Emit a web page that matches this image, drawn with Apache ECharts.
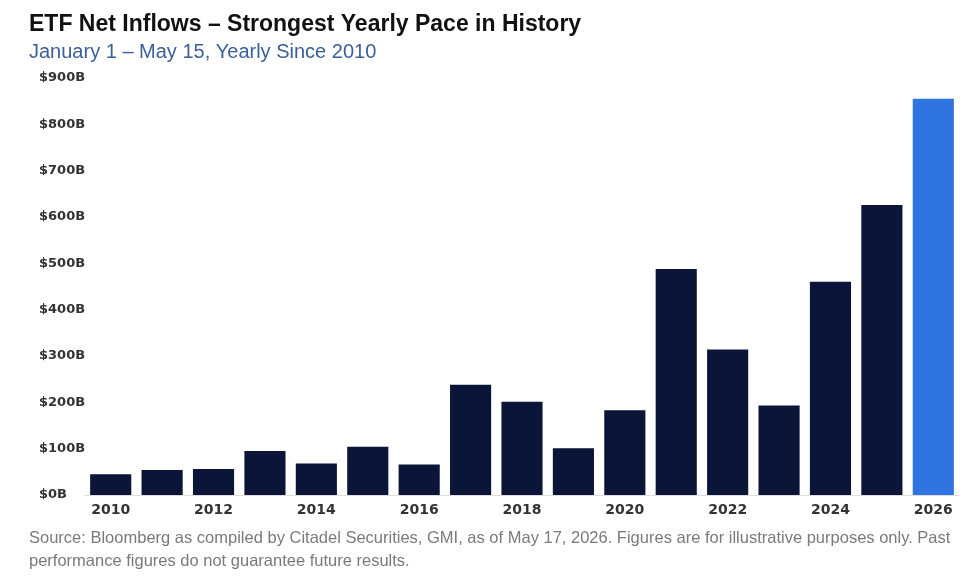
<!DOCTYPE html>
<html>
<head>
<meta charset="utf-8">
<script src="https://cdn.jsdelivr.net/npm/echarts@6/dist/echarts.min.js"></script>
<style>
  html, body { margin: 0; padding: 0; background: #fff; }
  #chart { width: 974px; height: 580px; }
</style>
</head>
<body>
<div id="chart"></div>
<script>
// Data (billions USD, Jan 1 - May 15 each year)
const years = ['2010', '2011', '2012', '2013', '2014', '2015', '2016', '2017', '2018',
  '2019', '2020', '2021', '2022', '2023', '2024', '2025', '2026'];
const inflows = [45, 54, 56, 95, 68, 104, 66, 238, 201, 101, 183, 488, 314, 193, 460, 626, 855];
const highlightYear = '2026';

const navy = '#0b1538';
const blue = '#2f74e0';

const chart = echarts.init(document.getElementById('chart'));

chart.setOption({
  backgroundColor: '#fff',
  animation: false,
  title: [
    {
      text: 'ETF Net Inflows – Strongest Yearly Pace in History',
      left: 24, top: 8,
      textStyle: { fontFamily: 'Liberation Sans', fontSize: 23, fontWeight: 'bold', color: '#111' }
    },
    {
      text: 'January 1 – May 15, Yearly Since 2010',
      left: 24, top: 37,
      textStyle: { fontFamily: 'Liberation Sans', fontSize: 20, fontWeight: 'normal', color: '#3b5f98' }
    },
    {
      text: 'Source: Bloomberg as compiled by Citadel Securities, GMI, as of May 17, 2026. Figures are for illustrative purposes only. Past\nperformance figures do not guarantee future results.',
      left: 24, top: 522,
      textStyle: { fontFamily: 'Liberation Sans', fontSize: 16.5, fontWeight: 'normal', color: '#7a7a7a', lineHeight: 23 }
    }
  ],
  grid: { left: 85, right: 15, top: 78, bottom: 85 },
  xAxis: {
    type: 'category',
    data: years,
    axisLine: { lineStyle: { color: '#ddd' } },
    axisTick: { show: false },
    axisLabel: {
      interval: 1,
      margin: 8,
      fontFamily: 'DejaVu Sans', fontSize: 14, fontWeight: 'bold', color: '#333'
    }
  },
  yAxis: {
    type: 'value',
    min: 0, max: 900, interval: 100,
    splitLine: { show: false },
    axisLine: { show: false },
    axisTick: { show: false },
    axisLabel: {
      align: 'left',
      margin: 46,
      fontFamily: 'DejaVu Sans', fontSize: 13, fontWeight: 'bold', color: '#333',
      formatter: v => '$' + v + 'B'
    }
  },
  series: [{
    type: 'bar',
    barCategoryGap: '20%',
    data: inflows.map((v, i) => ({
      value: v,
      itemStyle: { color: years[i] === highlightYear ? blue : navy }
    }))
  }]
});
</script>
</body>
</html>
